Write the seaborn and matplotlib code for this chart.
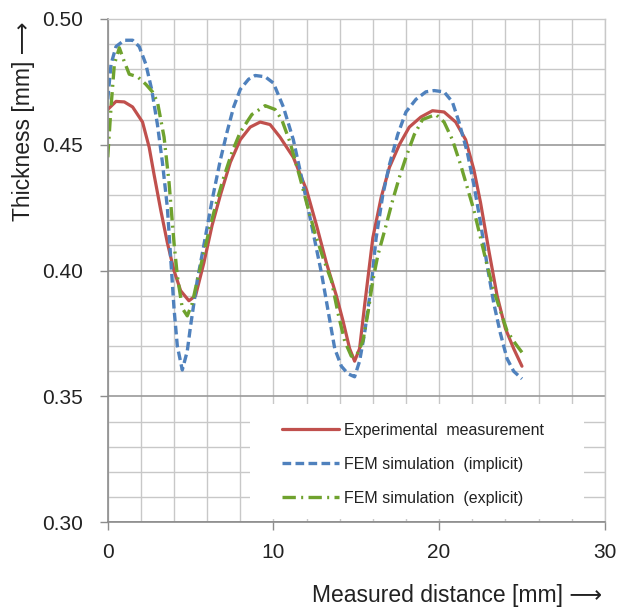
import numpy as np
import pandas as pd
import matplotlib
matplotlib.use('Agg')
import matplotlib.pyplot as plt
from matplotlib.patches import Rectangle
from matplotlib.ticker import MultipleLocator
import seaborn as sns

# datos
x_exp = [0, 0.5, 1.0, 1.5, 2.1, 2.5, 2.8, 3.2, 3.6, 4.0, 4.4, 4.9, 5.3, 5.8, 6.3, 6.8,
         7.4, 8.0, 8.6, 9.2, 9.8, 10.4, 11.2, 12.0, 12.6, 13.2, 13.8, 14.2, 14.6, 14.9,
         15.2, 15.5, 16.0, 16.5, 17.0, 17.6, 18.2, 18.9, 19.6, 20.3, 21.0, 21.6, 22.1,
         22.5, 23.0, 23.5, 24.0, 24.5, 25.0]
y_exp = [0.464, 0.4672, 0.467, 0.465, 0.459, 0.449, 0.438, 0.424, 0.411, 0.400, 0.392,
         0.388, 0.390, 0.403, 0.418, 0.430, 0.443, 0.452, 0.457, 0.459, 0.458, 0.453,
         0.445, 0.432, 0.418, 0.403, 0.390, 0.380, 0.369, 0.364, 0.369, 0.386, 0.413,
         0.429, 0.441, 0.450, 0.457, 0.461, 0.4635, 0.463, 0.459, 0.452, 0.440, 0.427,
         0.408, 0.390, 0.377, 0.369, 0.362]

x_imp = [0, 0.2, 0.5, 1.0, 1.5, 1.9, 2.3, 2.65, 3.0, 3.3, 3.6, 3.8, 4.0, 4.2, 4.5, 4.8,
         5.0, 5.4, 5.8, 6.3, 6.8, 7.2, 7.6, 8.0, 8.5, 8.9, 9.5, 10.0, 10.6, 11.2, 11.8,
         12.4, 12.9, 13.3, 13.7, 14.1, 14.5, 14.9, 15.2, 15.5, 15.9, 16.2, 16.6, 17.0,
         17.5, 18.0, 18.6, 19.2, 19.7, 20.3, 20.8, 21.2, 21.7, 22.1, 22.5, 22.9, 23.3,
         23.7, 24.1, 24.5, 25.0]
y_imp = [0.468, 0.482, 0.489, 0.4915, 0.4915, 0.489, 0.482, 0.472, 0.458, 0.443, 0.425,
         0.405, 0.385, 0.370, 0.3605, 0.368, 0.378, 0.396, 0.410, 0.428, 0.444, 0.455,
         0.465, 0.472, 0.476, 0.4775, 0.477, 0.4745, 0.465, 0.452, 0.434, 0.415, 0.399,
         0.384, 0.369, 0.362, 0.359, 0.3578, 0.364, 0.375, 0.394, 0.413, 0.430, 0.442,
         0.454, 0.463, 0.468, 0.471, 0.4715, 0.471, 0.467, 0.459, 0.447, 0.434, 0.419,
         0.402, 0.387, 0.375, 0.365, 0.360, 0.357]

x_expl = [0, 0.2, 0.4, 0.7, 1.0, 1.3, 1.8, 2.3, 2.7, 3.0, 3.4, 3.7, 4.0, 4.2, 4.5, 4.8,
          5.1, 5.4, 5.8, 6.2, 6.6, 7.0, 7.5, 8.0, 8.7, 9.5, 10.1, 10.5, 11.0, 11.6, 12.0,
          12.5, 13.0, 13.5, 13.9, 14.3, 14.7, 15.0, 15.4, 15.7, 16.0, 16.3, 16.8, 17.2,
          17.6, 18.0, 18.5, 19.0, 19.8, 20.3, 20.8, 21.3, 21.7, 22.1, 22.5, 22.9, 23.3,
          23.7, 24.1, 24.6, 25.0]
y_expl = [0.445, 0.465, 0.482, 0.4885, 0.483, 0.478, 0.477, 0.474, 0.471, 0.467, 0.453,
          0.435, 0.411, 0.398, 0.385, 0.382, 0.387, 0.396, 0.407, 0.418, 0.428, 0.437,
          0.447, 0.455, 0.462, 0.4655, 0.464, 0.460, 0.451, 0.437, 0.427, 0.415, 0.405,
          0.396, 0.383, 0.372, 0.366, 0.366, 0.372, 0.383, 0.396, 0.406, 0.418, 0.428,
          0.437, 0.445, 0.454, 0.460, 0.462, 0.459, 0.452, 0.442, 0.433, 0.424, 0.413,
          0.402, 0.392, 0.384, 0.376, 0.371, 0.3675]

etiquetas = ['Experimental  measurement', 'FEM simulation  (implicit)', 'FEM simulation  (explicit)']
colores = ['#C0504D', '#4F81BD', '#6FA22E']

sns.set_style('white')
plt.rcParams['font.family'] = ['Liberation Sans', 'DejaVu Sans']

fig = plt.figure(figsize=(6.3, 6.08), dpi=100)
ax = fig.add_axes([0.171, 0.141, 0.789, 0.828])

# cuadricula
ax.set_axisbelow(True)
ax.xaxis.set_minor_locator(MultipleLocator(2))
ax.yaxis.set_minor_locator(MultipleLocator(0.01))
ax.grid(which='minor', color='#C8C8C8', linewidth=1.0)
ax.grid(which='major', axis='x', color='#C8C8C8', linewidth=1.0)
ax.grid(which='major', axis='y', color='#9A9A9A', linewidth=1.2)

# caja blanca de la leyenda
ax.add_patch(Rectangle((0.287, 0.006), 0.672, 0.228, transform=ax.transAxes,
                       facecolor='white', edgecolor='none', zorder=1.5))

sns.lineplot(x=x_exp, y=y_exp, ax=ax, color=colores[0], linewidth=2.3,
             label=etiquetas[0], sort=False)
sns.lineplot(x=x_imp, y=y_imp, ax=ax, color=colores[1], linewidth=2.4,
             label=etiquetas[1], sort=False, linestyle=(0, (2.6, 1.3)))
sns.lineplot(x=x_expl, y=y_expl, ax=ax, color=colores[2], linewidth=2.4,
             label=etiquetas[2], sort=False, linestyle=(0, (4, 1.6, 0.6, 1.6)))

ax.set_xlim(0, 30)
ax.set_ylim(0.30, 0.50)
ax.set_xticks([0, 10, 20, 30])
ax.set_yticks([0.30, 0.35, 0.40, 0.45, 0.50])
ax.set_yticklabels(['0.30', '0.35', '0.40', '0.45', '0.50'])
ax.tick_params(which='major', length=6, width=1, color='#8C8C8C', labelsize=15,
               labelcolor='#222222')
ax.tick_params(which='minor', length=0)
ax.tick_params(axis='x', bottom=True, pad=9)
ax.tick_params(axis='y', left=True, pad=12)

for lado in ['left', 'bottom']:
    ax.spines[lado].set_color('#8C8C8C')
    ax.spines[lado].set_linewidth(1.2)
for lado in ['top', 'right']:
    ax.spines[lado].set_color('#C8C8C8')
    ax.spines[lado].set_linewidth(1.0)

ax.set_xlabel('')
ax.set_ylabel('')
fig.text(0.955, 0.021, 'Measured distance [mm] \u27f6', ha='right', va='center',
         fontsize=16.5, color='#222222')
fig.text(0.038, 0.965, 'Thickness [mm] \u27f6', ha='center', va='top', rotation=90,
         fontsize=16.5, color='#222222')

leg = ax.legend(loc='upper left', bbox_to_anchor=(0.35, 0.198), frameon=False,
                borderpad=0, borderaxespad=0, handlelength=3.6, handletextpad=0.3,
                labelspacing=1.2, fontsize=11.5)
for t in leg.get_texts():
    t.set_color('#222222')

plt.savefig('out.png', dpi=100)
